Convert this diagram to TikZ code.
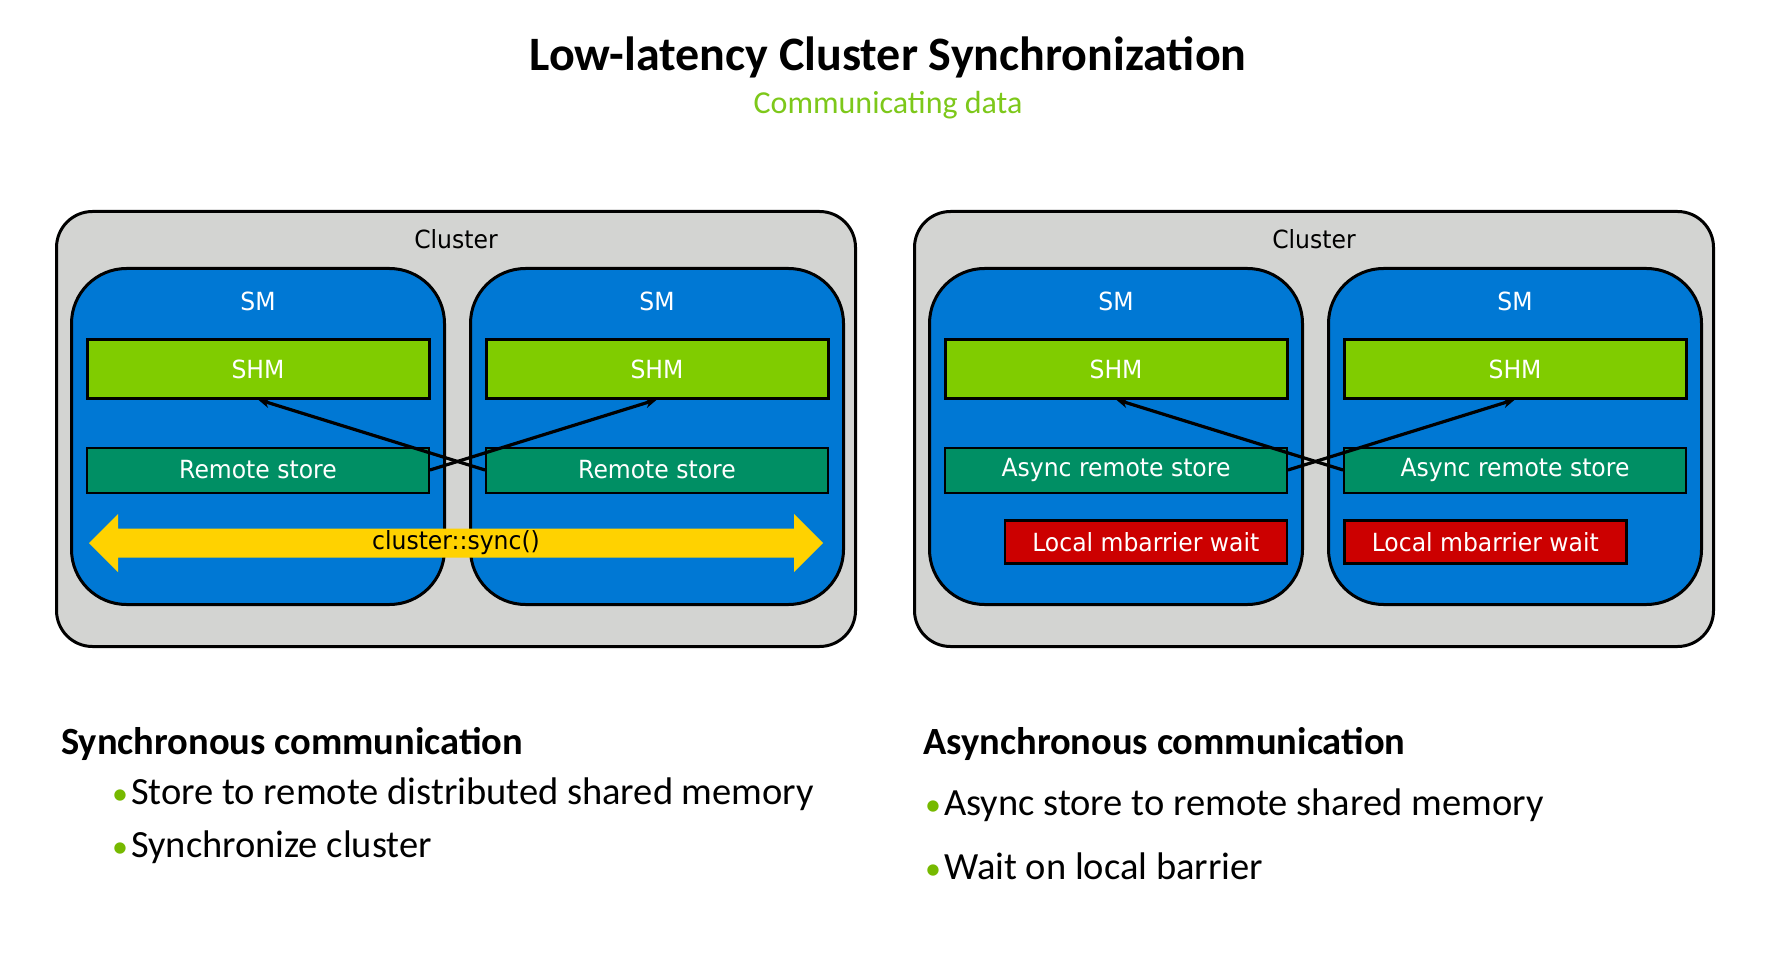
\documentclass[tikz,border=0pt]{standalone}
\usepackage{fontspec}
\setmainfont{Carlito}
\newfontfamily\boxfont[FakeStretch=0.94]{DejaVu Sans}
\usepackage{xcolor}
\usetikzlibrary{arrows.meta}
\usetikzlibrary{calc}
\usetikzlibrary{positioning}
\definecolor{clustergray}{HTML}{D3D4D2}
\definecolor{smblue}{HTML}{0078D4}
\definecolor{shmgreen}{HTML}{80CC00}
\definecolor{storegreen}{HTML}{008F64}
\definecolor{waitred}{HTML}{CC0000}
\definecolor{syncyellow}{HTML}{FFD200}
\definecolor{nvgreen}{HTML}{76B900}
\definecolor{subgreen}{HTML}{7DC81A}
\newcommand{\greendot}{\textcolor{nvgreen}{\fontsize{32}{38}\selectfont•}\hspace{3pt}}
\tikzset{every node/.style={inner sep=0pt}}
\tikzset{boxtext/.style={font={\boxfont\fontsize{25}{30}\selectfont}}}
\tikzset{cluster/.style={draw=black, line width=3pt, fill=clustergray, rounded corners=36pt, minimum width=799pt, minimum height=435pt, anchor=north west}}
\tikzset{sm/.style={draw=black, line width=3pt, fill=smblue, rounded corners=55pt, minimum width=373pt, minimum height=336pt, anchor=north west}}
\tikzset{shm/.style={draw=black, line width=3pt, fill=shmgreen, minimum width=342pt, minimum height=58pt, text=white, boxtext}}
\tikzset{store/.style={draw=black, line width=2pt, fill=storegreen, minimum width=342pt, minimum height=45pt, text=white, boxtext}}
\tikzset{wait/.style={draw=black, line width=2.5pt, fill=waitred, minimum width=282pt, minimum height=43pt, text=white, boxtext}}
\tikzset{ln/.style={draw=black, line width=3.2pt, -{Stealth[length=12pt, width=10pt]}}}
\tikzset{heading/.style={anchor=west, font={\bfseries\fontsize{38.5}{46}\selectfont}}}
\tikzset{item/.style={anchor=west, font={\fontsize{38.5}{46}\selectfont}}}

\begin{document}
\begin{tikzpicture}[x=1pt, y=-1pt]
  \useasboundingbox[fill=white] (0,0) rectangle (1788,965);

  % Title
  \node[font={\bfseries\fontsize{48}{58}\selectfont}] (title) at (888,57) {Low-latency Cluster Synchronization};
  \node[text=subgreen, font={\fontsize{32}{38}\selectfont}] (subtitle) at (888,105) {Communicating data};

  % Left cluster: synchronous
  \node[cluster] (clA) at (55,210) {};
  \node[boxtext] at ($(clA.north)+(0,29)$) {Cluster};
  \node[sm] (smA1) at (70,267) {};
  \node[sm, right=23pt of smA1] (smA2) {};
  \node[boxtext, text=white] at ($(smA1.north)+(0,34)$) {SM};
  \node[boxtext, text=white] at ($(smA2.north)+(0,34)$) {SM};
  \node[shm] (shmA1) at ($(smA1.north)+(0,102)$) {SHM};
  \node[shm] (shmA2) at ($(smA2.north)+(0,102)$) {SHM};
  \node[store] (storeA1) at ($(smA1.north)+(0,203)$) {Remote store};
  \node[store] (storeA2) at ($(smA2.north)+(0,203)$) {Remote store};

  % cluster::sync() arrow
  \coordinate (syncL) at (89,543);
  \coordinate (syncR) at (823,543);
  \fill[syncyellow] (syncL) -- ($(syncL)+(29,-29)$) -- ($(syncL)+(29,-14.5)$) -- ($(syncR)+(-29,-14.5)$)
    -- ($(syncR)+(-29,-29)$) -- (syncR) -- ($(syncR)+(-29,29)$) -- ($(syncR)+(-29,14.5)$)
    -- ($(syncL)+(29,14.5)$) -- ($(syncL)+(29,29)$) -- cycle;
  \node[boxtext] (sync) at ($(clA.north)+(0,333)$) {cluster::sync()};

  \draw[ln] (storeA2.west) -- (shmA1.south);
  \draw[ln] (storeA1.east) -- (shmA2.south);

  % Right cluster: asynchronous
  \node[cluster] (clB) at (913,210) {};
  \node[boxtext] at ($(clB.north)+(0,29)$) {Cluster};
  \node[sm] (smB1) at (928,267) {};
  \node[sm, right=23pt of smB1] (smB2) {};
  \node[boxtext, text=white] at ($(smB1.north)+(0,34)$) {SM};
  \node[boxtext, text=white] at ($(smB2.north)+(0,34)$) {SM};
  \node[shm] (shmB1) at ($(smB1.north)+(0,102)$) {SHM};
  \node[shm] (shmB2) at ($(smB2.north)+(0,102)$) {SHM};
  \node[store] (storeB1) at ($(smB1.north)+(0,203)$) {Async remote store};
  \node[store] (storeB2) at ($(smB2.north)+(0,203)$) {Async remote store};
  \node[wait, anchor=east] (waitB1) at ($(storeB1.east)+(0,72)$) {Local mbarrier wait};
  \node[wait, anchor=west] (waitB2) at ($(storeB2.west)+(0,72)$) {Local mbarrier wait};

  \draw[ln] (storeB2.west) -- (shmB1.south);
  \draw[ln] (storeB1.east) -- (shmB2.south);

  % Text below
  \node[heading] (syncHead) at (61,744) {Synchronous communication};
  \node[item] (syncItem1) at (112,794) {\greendot Store to remote distributed shared memory};
  \node[item] (syncItem2) at (112,847) {\greendot Synchronize cluster};
  \node[heading] (asyncHead) at (923,744) {Asynchronous communication};
  \node[item] (asyncItem1) at (925,805) {\greendot Async store to remote shared memory};
  \node[item] (asyncItem2) at (925,866) {\greendot Wait on local barrier};
\end{tikzpicture}
\end{document}
